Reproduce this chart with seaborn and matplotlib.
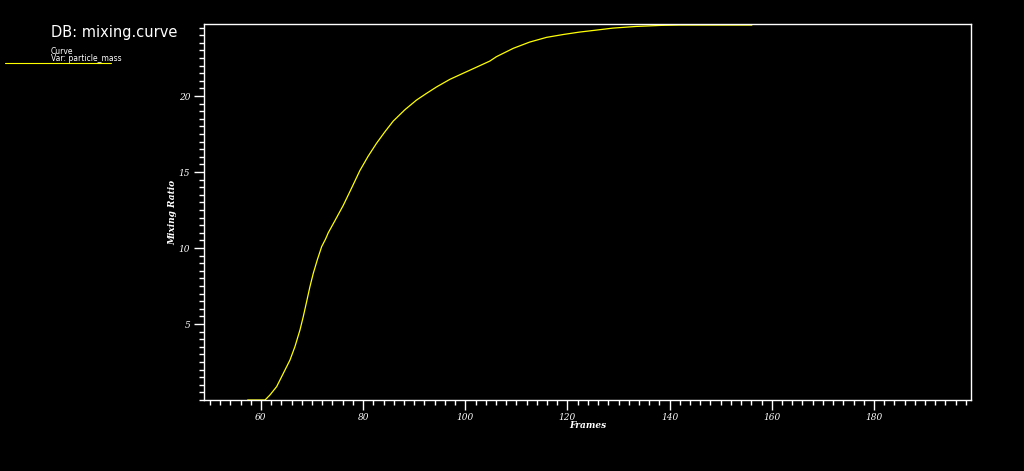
import matplotlib
matplotlib.use("Agg")
import matplotlib.pyplot as plt
import seaborn as sns
import pandas as pd
from matplotlib.ticker import MultipleLocator

frames = [57.4, 60.8, 61.76, 63.07, 64.37, 65.68, 66.65, 67.63, 68.28, 68.94, 69.59,
          70.24, 71.02, 71.88, 72.66, 73.17, 74.48, 76.1, 77.75, 79.37, 81.0, 82.64,
          84.27, 85.89, 88.18, 90.47, 92.43, 94.38, 96.99, 99.59, 102.2, 104.8,
          106.1, 109.4, 112.6, 115.9, 119.2, 122.4, 125.7, 128.9, 133.5, 138.4,
          142.0, 156.1]
mixing_ratio = [0.0, 0.0, 0.33, 0.88, 1.75, 2.63, 3.51, 4.6, 5.48, 6.47, 7.46,
                8.33, 9.21, 10.09, 10.6, 11.0, 11.8, 12.8, 13.95, 15.1, 16.05, 16.9,
                17.65, 18.35, 19.1, 19.74, 20.18, 20.6, 21.1, 21.5, 21.9, 22.3,
                22.59, 23.14, 23.55, 23.86, 24.05, 24.21, 24.34, 24.47, 24.58, 24.65,
                24.67, 24.67]
x_ticks = [60, 80, 100, 120, 140, 160, 180]
y_ticks = [5, 10, 15, 20]

sns.set_style("dark")
plt.rcParams["font.family"] = ["DejaVu Sans"]

df = pd.DataFrame({"Frames": frames, "Mixing Ratio": mixing_ratio})

fig = plt.figure(figsize=(10.24, 4.71), dpi=100, facecolor="black")
ax = fig.add_axes([204/1024, 1 - 400/471, (971-204)/1024, (400-24)/471])
ax.set_facecolor("black")
sns.lineplot(data=df, x="Frames", y="Mixing Ratio", ax=ax, color="#ffff00",
             linewidth=0.9, legend=False)

ax.set_xlim(48.85, 199.0)
ax.set_ylim(0.0, 24.74)
ax.set_xticks(x_ticks)
ax.set_yticks(y_ticks)
ax.xaxis.set_minor_locator(MultipleLocator(2))
ax.yaxis.set_minor_locator(MultipleLocator(0.5))
ax.grid(False)
for s in ax.spines.values():
    s.set_color("white")
    s.set_linewidth(1.0)
    s.set_visible(True)
ax.tick_params(axis="both", which="both", bottom=True, left=True, top=False, right=False)
ax.tick_params(axis="both", which="major", colors="white", length=7, width=1.0,
               direction="out", labelsize=6.5)
ax.tick_params(axis="x", which="major", pad=2)
ax.tick_params(axis="y", which="major", pad=3)
ax.tick_params(axis="both", which="minor", colors="white", length=3.5, width=1.0,
               direction="out")
for lab in ax.get_xticklabels() + ax.get_yticklabels():
    lab.set_fontfamily("DejaVu Serif")
    lab.set_fontstyle("italic")
    lab.set_color("white")
ax.set_xlabel("Frames", color="white", fontsize=6.5, fontfamily="DejaVu Serif",
              fontstyle="italic", fontweight="bold", labelpad=0)
ax.set_ylabel("Mixing Ratio", color="white", fontsize=6.5, fontfamily="DejaVu Serif",
              fontstyle="italic", fontweight="bold", labelpad=1)

fig.text(51/1024, 1 - 32/471, "DB: mixing.curve", color="white", fontsize=10.5,
         va="center", ha="left")
fig.text(51/1024, 1 - 51/471, "Curve", color="white", fontsize=5.5, va="center")
fig.text(51/1024, 1 - 58.5/471, "Var: particle_mass", color="white", fontsize=5.5,
         va="center")
fig.add_artist(plt.Line2D([5/1024, 111/1024], [1 - 63/471, 1 - 63/471],
                          color="#ffff00", linewidth=0.8))

fig.savefig("out.png", dpi=100, facecolor="black")
